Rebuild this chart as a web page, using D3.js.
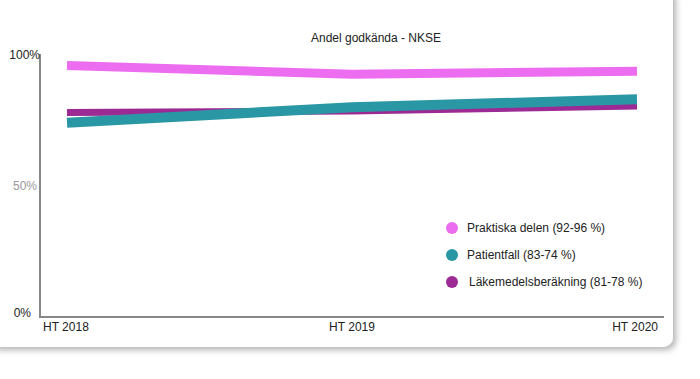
<!DOCTYPE html>
<html><head><meta charset="utf-8">
<script src="https://cdn.jsdelivr.net/npm/d3@7"></script>
<style>
body{margin:0;background:#fff;}
svg{display:block;font-family:"Liberation Sans",Arial,sans-serif;}
</style></head>
<body><svg id="c" width="700" height="379"></svg>
<script>
const categories = ["HT 2018", "HT 2019", "HT 2020"];
const seriesNames = ["Praktiska delen (92-96 %)", "Patientfall (83-74 %)", "Läkemedelsberäkning (81-78 %)"];
const praktiska = [96, 92.6, 93.8];
const patientfall = [74, 80, 83];
const lakemedel = [78, 78.5, 80.5];
const yTicks = [0, 50, 100];
const yTickLabels = ["0%", "50%", "100%"];
const title = "Andel godkända - NKSE";

const svg = d3.select("#c");
const defs = svg.append("defs");
const f = defs.append("filter").attr("id","sh").attr("x","-5%").attr("y","-5%").attr("width","115%").attr("height","115%");
f.append("feDropShadow").attr("dx",3).attr("dy",3).attr("stdDeviation",3).attr("flood-color","#000").attr("flood-opacity",0.3);
svg.append("rect").attr("x",-12).attr("y",-12).attr("width",685).attr("height",359).attr("rx",10).attr("fill","#fff").attr("filter","url(#sh)");

const x = d3.scalePoint().domain(categories).range([67, 637]);
const y = d3.scaleLinear().domain([0,100]).range([316, 55]);

svg.append("text").attr("x",376).attr("y",42).attr("text-anchor","middle").attr("font-size",12).attr("fill","#222").text(title);

// axes
svg.append("line").attr("x1",40).attr("x2",40).attr("y1",y(100)-1).attr("y2",317).attr("stroke","#888").attr("stroke-width",2);
svg.append("line").attr("x1",39).attr("x2",664).attr("y1",317).attr("y2",317).attr("stroke","#888").attr("stroke-width",2);

const yr = {0:31, 50:37, 100:40};
yTicks.forEach((t,i)=>{
  svg.append("text").attr("x",yr[t]).attr("y",y(t)+(t===0?-3:0)).attr("dy","0.35em").attr("text-anchor","end")
    .attr("font-size",12).attr("fill", t===50?"#999":"#222").text(yTickLabels[i]);
});

categories.forEach((c,i)=>{
  const anchor = i===0?"start":(i===categories.length-1?"end":"middle");
  const xx = i===0? x(c)-24 : (i===categories.length-1? x(c)+21 : x(c));
  svg.append("text").attr("x",xx).attr("y",331).attr("text-anchor",anchor).attr("font-size",12).attr("fill","#222").text(c);
});

const series = [
  {name:seriesNames[0], vals:praktiska, color:"#ec6def", w:9},
  {name:seriesNames[2], vals:lakemedel, color:"#9c2a94", w:7},
  {name:seriesNames[1], vals:patientfall, color:"#2a97a5", w:10},
];
const line = d3.line().x((d,i)=>x(categories[i])).y(d=>y(d));
series.forEach(s=>{
  svg.append("path").datum(s.vals).attr("d",line).attr("fill","none").attr("stroke",s.color).attr("stroke-width",s.w).attr("stroke-linecap","butt");
});

const legend = [
  {name:seriesNames[0], color:"#ec6def", dx:0},
  {name:seriesNames[1], color:"#2a97a5", dx:0},
  {name:seriesNames[2], color:"#9c2a94", dx:2},
];
legend.forEach((l,i)=>{
  const ly = 228 + i*27;
  svg.append("circle").attr("cx",452).attr("cy",ly).attr("r",6).attr("fill",l.color);
  svg.append("text").attr("x",467+l.dx).attr("y",ly).attr("dy","0.35em").attr("font-size",12).attr("fill","#222").text(l.name);
});
</script></body></html>
